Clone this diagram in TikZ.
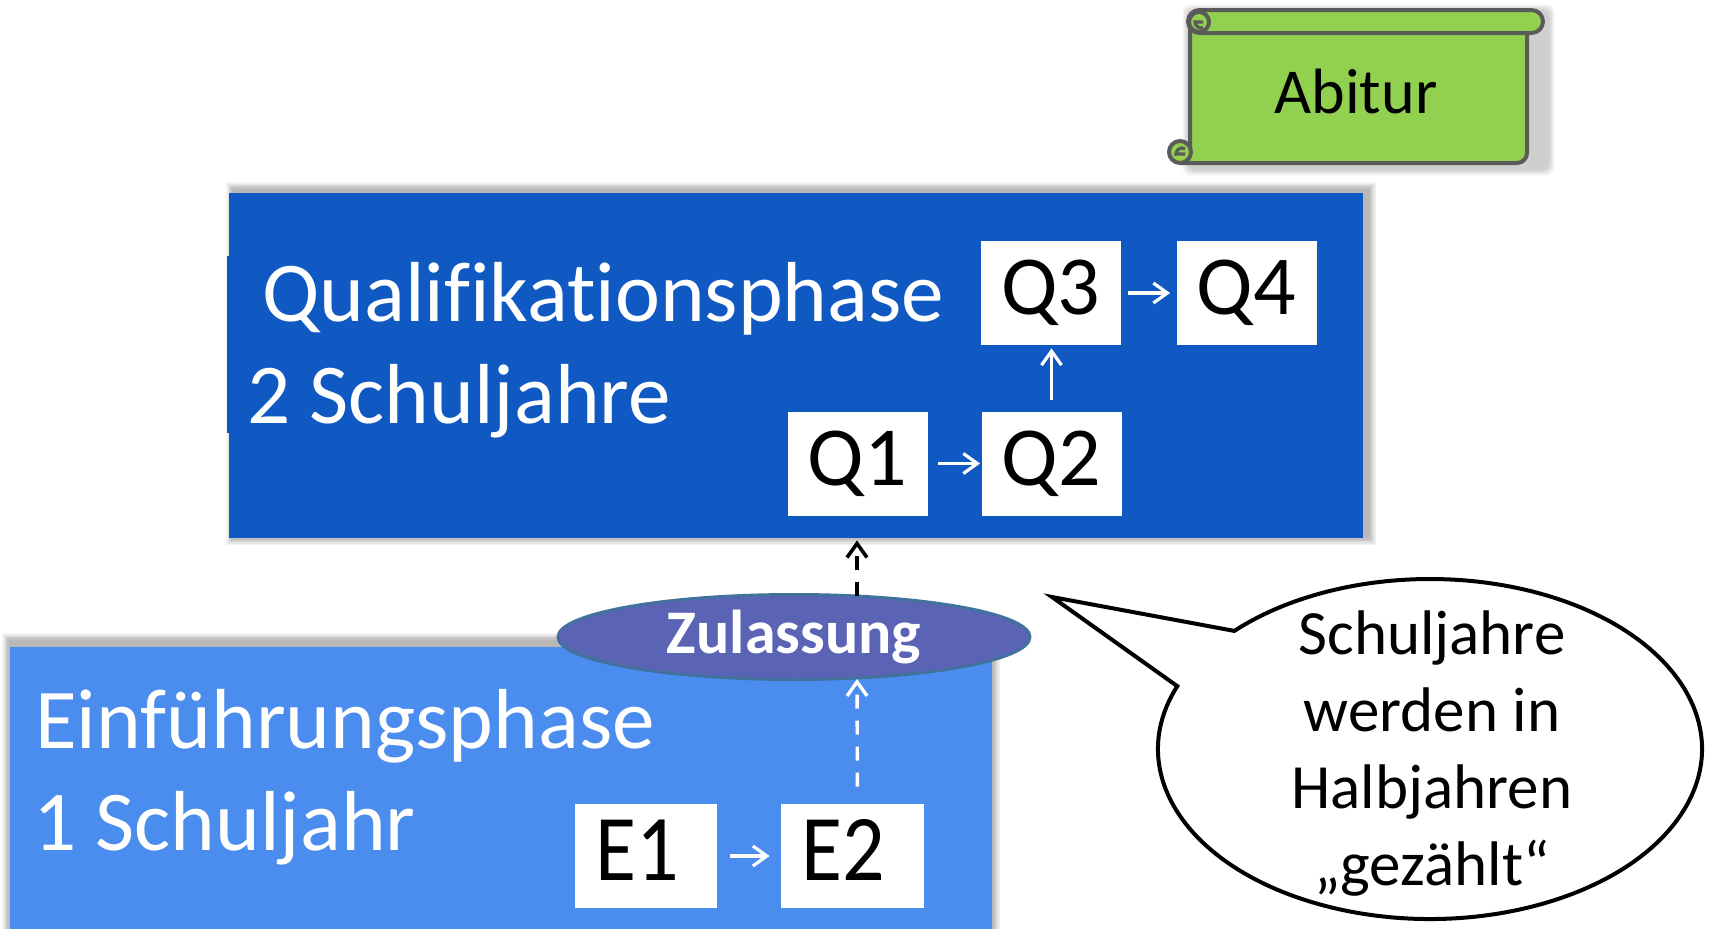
\documentclass[tikz,border=0pt]{standalone}
\usepackage{fontspec}
\usepackage{graphicx}
\setmainfont{Carlito}[Ligatures=NoCommon]
\usetikzlibrary{arrows.meta,shapes.geometric,calc}
\definecolor{qblue}{HTML}{1059C2}
\definecolor{eblue}{HTML}{4A8DEE}
\definecolor{zulfill}{HTML}{5B63B5}
\definecolor{zulborder}{HTML}{41719C}
\definecolor{abigreen}{HTML}{92D050}
\definecolor{scrollgray}{HTML}{5A5A5A}
\begin{document}
\begin{tikzpicture}[x=0.5pt,y=-0.5pt,
  phaselabel/.style={text=white, font=\fontsize{42.6}{50}\selectfont, anchor=base west, inner sep=0pt},
  semibox/.style={fill=white, text=black, minimum width=70pt, minimum height=52pt, inner sep=0pt, font=\fontsize{42}{50}\selectfont},
  ebox/.style={semibox, text height=24pt, text depth=0pt},
  whitearrow/.style={draw=white, line width=1.6pt, -{Straight Barb[length=7pt,width=10pt]}},
  blackdash/.style={draw=black, line width=1.8pt, dash pattern=on 7pt off 6pt, -{Straight Barb[length=7pt,width=10pt]}},
  whitedash/.style={draw=white, line width=1.7pt, dash pattern=on 7pt off 6pt, -{Straight Barb[length=7pt,width=10pt]}},
  scrollline/.style={draw=scrollgray, line width=2pt, fill=abigreen, line join=round},
  callouttext/.style={font=\fontsize{31.5}{38}\selectfont, anchor=base, inner sep=0pt, text=black}
]
\useasboundingbox (0,0) rectangle (1715,928);
\clip (0,0) rectangle (1715,928);
\fill[white] (0,0) rectangle (1715,928);

% soft shadows
\foreach \k in {1,...,6}
  \fill[black,opacity=0.05] (234-\k*1.3,190-\k*1.3) rectangle (1368+\k*1.3,537+\k*1.3);
\foreach \k in {1,...,6}
  \fill[black,opacity=0.05] (10-\k*1.3,641-\k*1.3) rectangle (992+\k*1.3,960);

% phase boxes
\node[fill=qblue, minimum width=567pt, minimum height=172.5pt, inner sep=0pt] (qbox) at (796,365.5) {};
\fill[qblue] (227,256) rectangle (232,433);
\node[fill=eblue, minimum width=491pt, minimum height=156.5pt, inner sep=0pt] (ebox) at (501,803.5) {};

% phase labels
\node[phaselabel] (qtitle) at (262,321) {Qualifikationsphase};
\node[phaselabel] (qyears) at (247,423) {2 Schuljahre};
\node[phaselabel] (etitle) at (35,748) {Einführungsphase};
\node[phaselabel] (eyears) at (33,850) {1 Schuljahr};

% semester boxes
\node[semibox] (q3) at (1051,293) {Q3};
\node[semibox] (q4) at (1246.5,293) {Q4};
\node[semibox] (q1) at (857.5,463.5) {Q1};
\node[semibox] (q2) at (1051.5,463.5) {Q2};
\node[ebox, minimum width=71pt] (e1) at (646,856) {\scalebox{1}[1.12]{E1}\kern9pt};
\node[ebox, minimum width=71.5pt] (e2) at (852.5,856) {\scalebox{1}[1.12]{E2}\kern9pt};

\draw[whitearrow, shorten <=5pt, shorten >=0.5pt] (q1.east) -- (q2.west);
\draw[whitearrow, shorten <=5.5pt, shorten >=1.5pt] (q2.north) -- (q2.north |- q3.south);
\draw[whitearrow, shorten <=3.5pt, shorten >=3pt] (q3.east) -- (q4.west);
\draw[whitearrow, shorten <=6.5pt, shorten >=5.5pt] (e1.east) -- (e2.west);

% Zulassung
\node[ellipse, fill=zulfill, draw=zulborder, line width=1.5pt, minimum width=236pt, minimum height=42.5pt, inner sep=0pt, text=white, font=\bfseries\fontsize{31}{37}\selectfont] (zul) at (794,637) {Zulassung};
\coordinate (zt) at (857,596);
\coordinate (zb) at (857,679);
\draw[blackdash, shorten >=1pt] (zt) -- (zt |- qbox.south);
\draw[whitedash, shorten <=8.5pt] ([xshift=2.5pt]e2.north) -- (zb);

% callout
\coordinate (cc) at (1430,749);
\coordinate (tip) at (1052,597);
\draw[line width=2pt, fill=white, line join=miter] ($(cc)+(136:136pt and 85pt)$) -- (tip) -- ($(cc)+(158.3:136pt and 85pt)$) arc[start angle=158.3, end angle=496, x radius=136pt, y radius=85pt] -- cycle;
\node[callouttext] (c1) at (1432,654) {Schuljahre};
\node[callouttext] (c2) at (1432,731) {werden in};
\node[callouttext] (c3) at (1432,808) {Halbjahren};
\node[callouttext] (c4) at (1432,885) {„gezählt“};

% Abitur scroll
\foreach \k in {1,...,5}
  \fill[black,opacity=0.04,rounded corners=4pt] (1186-\k*1.3+3,8-\k*1.3+3) rectangle (1545+\k*1.3+3,166+\k*1.3+3);
\filldraw[scrollline] (1190,30) -- (1190,152) -- (1180,163) -- (1517,163) arc[start angle=-90, end angle=0, radius=5pt] -- (1527,30) -- cycle;
\filldraw[scrollline, rounded corners=5.75pt] (1188,10) rectangle (1543,33);
\filldraw[scrollline] (1199,22) circle[radius=10];
\draw[draw=scrollgray, line width=1.6pt] (1203,22) -- (1195,22) arc[start angle=180, end angle=290, radius=3pt];
\filldraw[scrollline] (1180,152) circle[radius=11];
\draw[draw=scrollgray, line width=1.6pt] (1185,154) -- (1176,154) arc[start angle=180, end angle=60, radius=3pt];
\node[font=\fontsize{32}{38}\selectfont, anchor=base, inner sep=0pt] (abitur) at (1356,113) {Abitur};
\end{tikzpicture}
\end{document}
